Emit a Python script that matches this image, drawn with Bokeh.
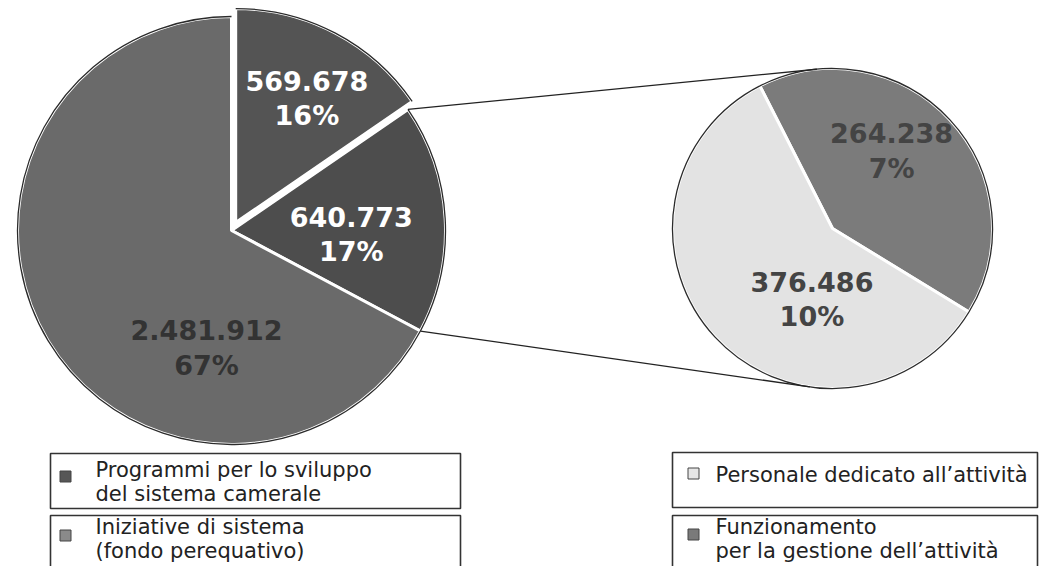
import math
from bokeh.plotting import figure
from bokeh.models import Range1d, ColumnDataSource
from bokeh.core.properties import value
from bokeh.embed import file_html
from bokeh.resources import INLINE

# ---------------- data ----------------
main_values = [569678, 640773, 2481912]
main_value_labels = ["569.678", "640.773", "2.481.912"]
main_pct_labels = ["16%", "17%", "67%"]
main_colors = ["#545454", "#4d4d4d", "#6a6a6a"]
main_text_colors = ["white", "white", "#333333"]

sub_values = [264238, 376486]
sub_value_labels = ["264.238", "376.486"]
sub_pct_labels = ["7%", "10%"]
sub_colors = ["#7b7b7b", "#e3e3e3"]
sub_text_colors = ["#444444", "#444444"]

legend_left_names = ["Programmi per lo sviluppo\ndel sistema camerale",
                     "Iniziative di sistema\n(fondo perequativo)"]
legend_left_colors = ["#575757", "#8a8a8a"]
legend_right_names = ["Personale dedicato all\u2019attivit\u00e0",
                      "Funzionamento\nper la gestione dell\u2019attivit\u00e0"]
legend_right_colors = ["#e6e6e6", "#7a7a7a"]

# ---------------- layout ----------------
W, H = 1041, 566
def Y(px):
    return H - px

p = figure(width=W, height=H, x_range=Range1d(0, W), y_range=Range1d(0, H),
           output_backend="svg", toolbar_location=None, min_border=0)
p.axis.visible = False
p.grid.visible = False
p.outline_line_color = None
p.background_fill_color = "white"
p.border_fill_color = "white"

FONT = "DejaVu Sans"

def slice_angles(values, start):
    total = float(sum(values))
    out = []
    a = start
    for v in values:
        span = 2 * math.pi * v / total
        out.append((a - span, a))
        a -= span
    return out

# main pie
cx1, cy1, r1 = 231, Y(230), 214
ang1 = slice_angles(main_values, math.pi / 2)
explode = [9, 0, 0]
xs, ys = [], []
for (a0, a1), e in zip(ang1, explode):
    m = (a0 + a1) / 2
    xs.append(cx1 + e * math.cos(m))
    ys.append(cy1 + e * math.sin(m))
src1 = ColumnDataSource(dict(x=xs, y=ys, s=[a[0] for a in ang1], e=[a[1] for a in ang1],
                             c=main_colors))
p.wedge(x="x", y="y", radius=r1, start_angle="s", end_angle="e", fill_color="c",
        line_color="white", line_width=3, source=src1)
p.arc(x="x", y="y", radius=r1, start_angle="s", end_angle="e", line_color="#2b2b2b",
      line_width=1.3, source=src1)

# secondary pie
cx2, cy2, r2 = 832, Y(228), 160
start2 = math.radians(117)
ang2 = slice_angles(sub_values, start2)
src2 = ColumnDataSource(dict(x=[cx2] * 2, y=[cy2] * 2, s=[a[0] for a in ang2],
                             e=[a[1] for a in ang2], c=sub_colors))
p.wedge(x="x", y="y", radius=r2, start_angle="s", end_angle="e", fill_color="c",
        line_color="white", line_width=3, source=src2)
p.arc(x="x", y="y", radius=r2, start_angle="s", end_angle="e", line_color="#2b2b2b",
      line_width=1.3, source=src2)

# connector lines from the split slice (index 1) edges, tangent to second pie
top_a = ang1[1][1]
bot_a = ang1[1][0]
pt = (cx1 + r1 * math.cos(top_a), cy1 + r1 * math.sin(top_a))
pb = (cx1 + r1 * math.cos(bot_a), cy1 + r1 * math.sin(bot_a))
def tangent(pnt, sign):
    dx, dy = pnt[0] - cx2, pnt[1] - cy2
    d = math.hypot(dx, dy)
    a = math.atan2(dy, dx) + sign * math.acos(r2 / d)
    return (cx2 + r2 * math.cos(a), cy2 + r2 * math.sin(a))
tt = tangent(pt, -1)
tb = tangent(pb, +1)
p.segment(x0=[pt[0], pb[0]], y0=[pt[1], pb[1]], x1=[tt[0], tb[0]], y1=[tt[1], tb[1]],
          line_color="#222222", line_width=1.3)

# data labels (polar placement: radius fraction, angle shift from mid-angle)
lab1_frac = [0.67, 0.56, 0.56]
lab1_shift = [-2, -5, 47]
lab2_frac = [0.61, 0.46]
lab2_shift = [10, 31]
LH = 17.5
def add_labels(cx, cy, r, angs, fracs, shifts, vlabels, plabels, tcolors, exp=None):
    lx, ly = [], []
    for i, (a0, a1) in enumerate(angs):
        m = (a0 + a1) / 2
        ex = exp[i] if exp else 0
        ox, oy = cx + ex * math.cos(m), cy + ex * math.sin(m)
        a = m + math.radians(shifts[i])
        lx.append(ox + fracs[i] * r * math.cos(a))
        ly.append(oy + fracs[i] * r * math.sin(a))
    src = ColumnDataSource(dict(x=lx, yv=[v + LH for v in ly], yp=[v - LH for v in ly],
                                v=vlabels, pc=plabels, c=tcolors))
    for ycol, tcol in (("yv", "v"), ("yp", "pc")):
        p.text(x="x", y=ycol, text=tcol, text_color="c", text_font=value(FONT),
               text_font_style="bold", text_font_size="27px", text_align="center",
               text_baseline="middle", source=src)

add_labels(cx1, cy1, r1, ang1, lab1_frac, lab1_shift, main_value_labels,
           main_pct_labels, main_text_colors, explode)
add_labels(cx2, cy2, r2, ang2, lab2_frac, lab2_shift, sub_value_labels,
           sub_pct_labels, sub_text_colors)

# legend boxes
box_l = dict(left=[50, 50], right=[460, 460], top=[Y(453), Y(515)], bottom=[Y(508), Y(600)])
box_r = dict(left=[672, 672], right=[1037, 1037], top=[Y(452), Y(515)], bottom=[Y(507), Y(600)])
for b in (box_l, box_r):
    p.quad(fill_color=None, line_color="#333333", line_width=1.6, **b)

def add_legend(names, colors, mx, tx, centers, marker_y):
    p.scatter(x=[mx] * len(names), y=[Y(v) for v in marker_y], marker="square", size=11,
              fill_color=colors, line_color="#444444", line_width=1)
    xs_, ys_, ts_ = [], [], []
    for name, c in zip(names, centers):
        lines = name.split("\n")
        n = len(lines)
        for k, t in enumerate(lines):
            xs_.append(tx)
            ys_.append(Y(c + (k - (n - 1) / 2) * 24))
            ts_.append(t)
    p.text(x=xs_, y=ys_, text=ts_, text_font=value(FONT), text_font_size="21px",
           text_color="#222222", text_align="left", text_baseline="middle")

add_legend(legend_left_names, legend_left_colors, 65, 95, [481.5, 538], [476, 535])
add_legend(legend_right_names, legend_right_colors, 693, 715, [474, 538], [473, 534])

open("out.html", "w").write(file_html(p, INLINE))
